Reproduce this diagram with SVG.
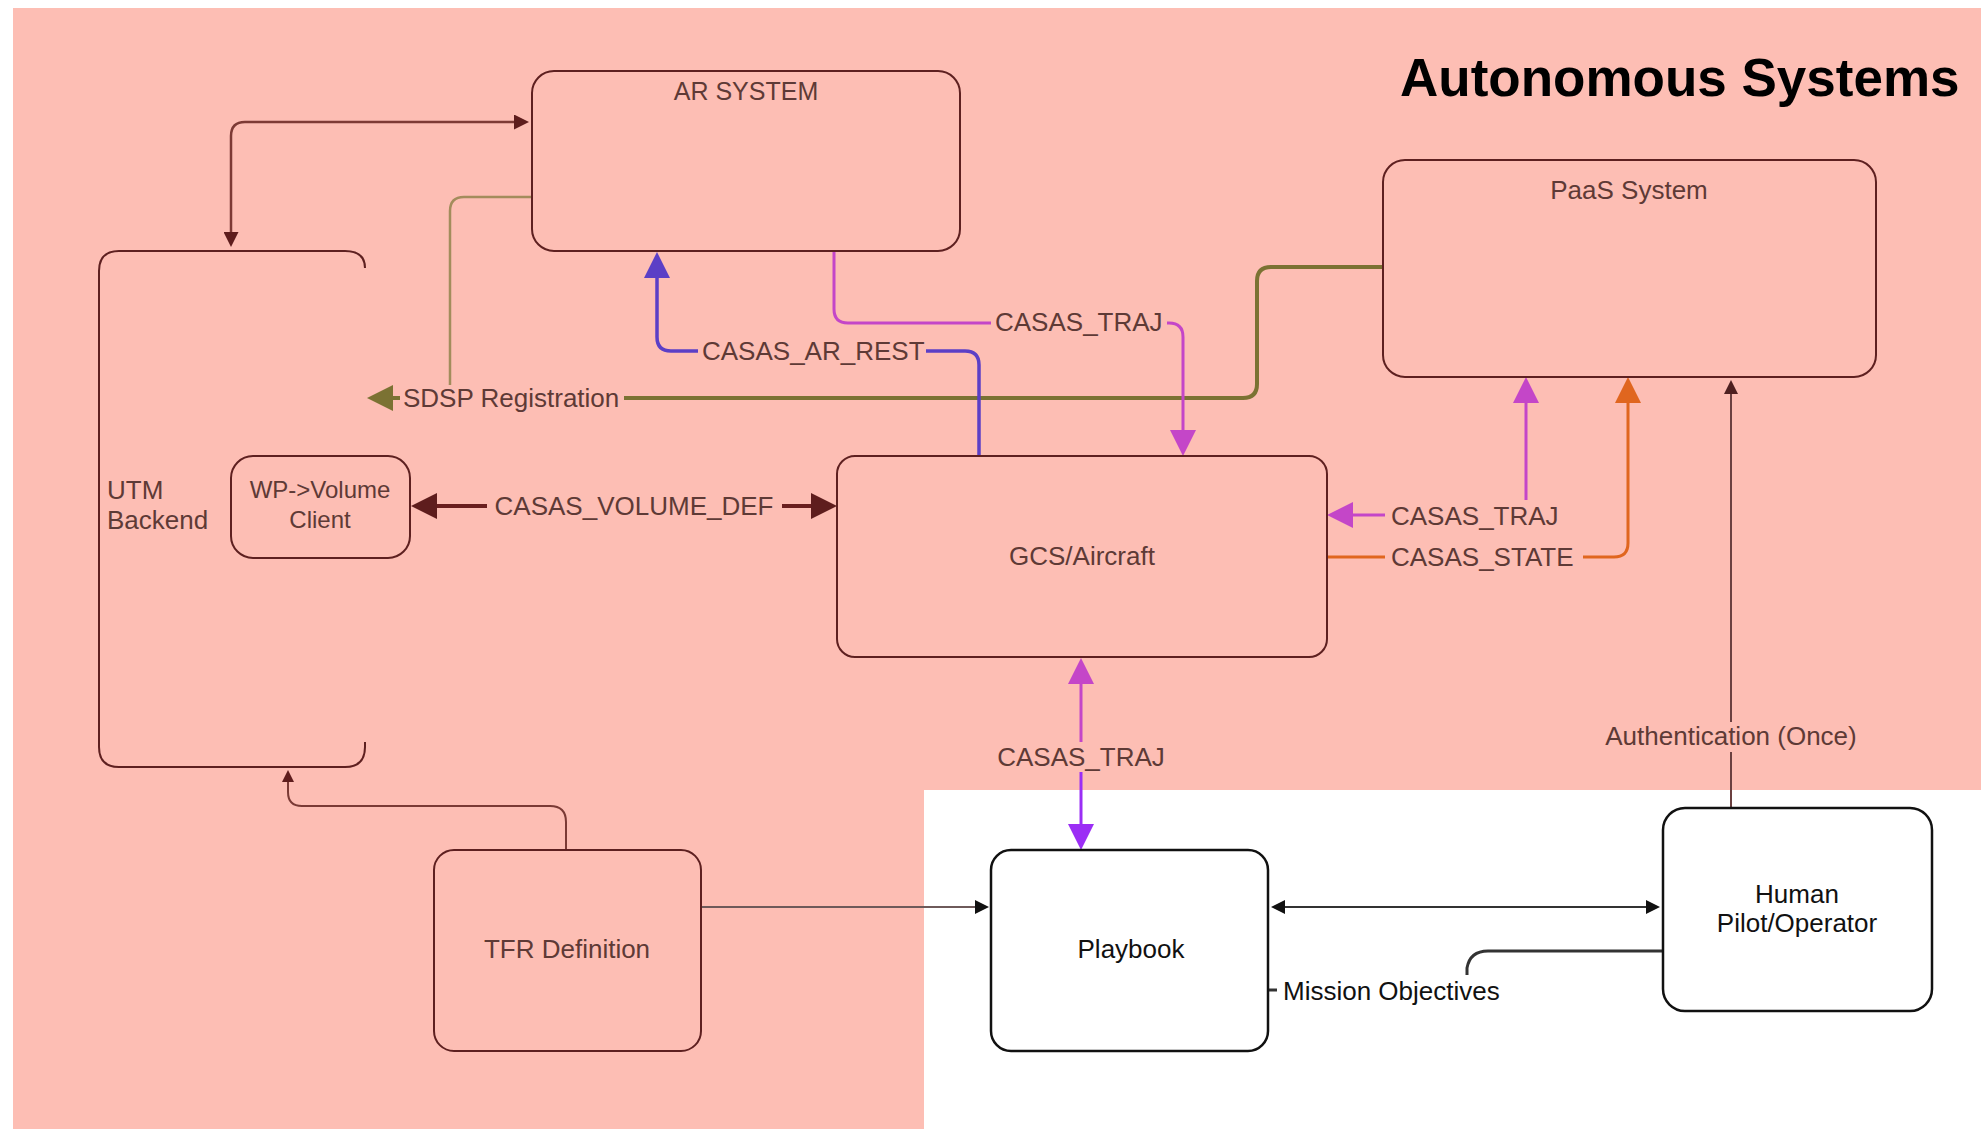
<svg xmlns="http://www.w3.org/2000/svg" width="1981" height="1129" viewBox="0 0 1981 1129">
<style>
  .bg { fill: #fdbeb4; }
  .node { fill: none; stroke: #5e2020; stroke-width: 2; }
  .nodew { fill: #ffffff; stroke: #111111; stroke-width: 2.5; }
  .lbl { font-family: "Liberation Sans", Arial, sans-serif; font-size: 26px; fill: #5e3a36; }
  .lblk { font-family: "Liberation Sans", Arial, sans-serif; font-size: 26px; fill: #111111; }
  .mid { text-anchor: middle; }
  .title { font-family: "Liberation Sans", Arial, sans-serif; font-size: 53px; font-weight: bold; fill: #000000; }
  .c { fill: none; }
  .lbg { fill: #fdbeb4; }
</style>
<defs>
  <marker id="aBrownS" viewBox="0 0 10 10" refX="0" refY="5" markerUnits="userSpaceOnUse" markerWidth="18" markerHeight="15" orient="auto-start-reverse"><path d="M0,0 L10,5 L0,10 z" fill="#5e1d1d"/></marker>
  <marker id="aBrownT" viewBox="0 0 10 10" refX="0" refY="5" markerUnits="userSpaceOnUse" markerWidth="15" markerHeight="12" orient="auto-start-reverse"><path d="M0,0 L10,5 L0,10 z" fill="#5e1d1d"/></marker>
  <marker id="aBrownB" viewBox="0 0 10 10" refX="0" refY="5" markerUnits="userSpaceOnUse" markerWidth="26" markerHeight="28" orient="auto-start-reverse"><path d="M0,0 L10,5 L0,10 z" fill="#5e1d1d"/></marker>
  <marker id="aAuth" viewBox="0 0 10 10" refX="0" refY="5" markerUnits="userSpaceOnUse" markerWidth="16" markerHeight="14" orient="auto-start-reverse"><path d="M0,0 L10,5 L0,10 z" fill="#4e2020"/></marker>
  <marker id="aOlive" viewBox="0 0 10 10" refX="0" refY="5" markerUnits="userSpaceOnUse" markerWidth="26" markerHeight="28" orient="auto-start-reverse"><path d="M0,0 L10,5 L0,10 z" fill="#7b7233"/></marker>
  <marker id="aBlue" viewBox="0 0 10 10" refX="0" refY="5" markerUnits="userSpaceOnUse" markerWidth="26" markerHeight="26" orient="auto-start-reverse"><path d="M0,0 L10,5 L0,10 z" fill="#5b3fc6"/></marker>
  <marker id="aMag" viewBox="0 0 10 10" refX="0" refY="5" markerUnits="userSpaceOnUse" markerWidth="26" markerHeight="26" orient="auto-start-reverse"><path d="M0,0 L10,5 L0,10 z" fill="#c446c8"/></marker>
  <marker id="aPurp" viewBox="0 0 10 10" refX="0" refY="5" markerUnits="userSpaceOnUse" markerWidth="26" markerHeight="26" orient="auto-start-reverse"><path d="M0,0 L10,5 L0,10 z" fill="#9b2ef5"/></marker>
  <marker id="aOrange" viewBox="0 0 10 10" refX="0" refY="5" markerUnits="userSpaceOnUse" markerWidth="26" markerHeight="26" orient="auto-start-reverse"><path d="M0,0 L10,5 L0,10 z" fill="#e0661f"/></marker>
  <marker id="aBlack" viewBox="0 0 10 10" refX="0" refY="5" markerUnits="userSpaceOnUse" markerWidth="16" markerHeight="14" orient="auto-start-reverse"><path d="M0,0 L10,5 L0,10 z" fill="#111111"/></marker>
</defs>

<rect width="1981" height="1129" fill="#ffffff"/>
<path class="bg" d="M13,8 H1981 V790 H924 V1129 H13 Z"/>
<text class="title" x="1400" y="96">Autonomous Systems</text>

<g id="connectors">
  <path class="c" d="M231,232 V136 Q231,122 245,122 H514" stroke="#7d3a35" stroke-width="2.5" marker-start="url(#aBrownS)" marker-end="url(#aBrownS)"/>
  <path class="c" d="M532,197 H464 Q450,197 450,211 V384 Q450,398 436,398" stroke="#a38c5c" stroke-width="2.5"/>
  <path class="c" d="M1383,267 H1271 Q1257,267 1257,281 V384 Q1257,398 1243,398 H393" stroke="#7b7233" stroke-width="4" marker-end="url(#aOlive)"/>
  <path class="c" d="M979,456 V365 Q979,351 965,351 H671 Q657,351 657,337 V278" stroke="#5b3fc6" stroke-width="3.5" marker-end="url(#aBlue)"/>
  <path class="c" d="M834,251 V309 Q834,323 848,323 H1169 Q1183,323 1183,337 V430" stroke="#c446c8" stroke-width="3" marker-end="url(#aMag)"/>
  <path class="c" d="M437,506 H811" stroke="#6a1f1f" stroke-width="4" marker-start="url(#aBrownB)" marker-end="url(#aBrownB)"/>
  <path class="c" d="M1081,742 V684" stroke="#c446c8" stroke-width="3" marker-end="url(#aMag)"/>
  <path class="c" d="M1081,772 V824" stroke="#9b2ef5" stroke-width="3" marker-end="url(#aPurp)"/>
  <path class="c" d="M1526,403 V515 H1353" stroke="#c446c8" stroke-width="3" marker-start="url(#aMag)" marker-end="url(#aMag)"/>
  <path class="c" d="M1327,557 H1614 Q1628,557 1628,543 V403" stroke="#e0661f" stroke-width="3" marker-end="url(#aOrange)"/>
  <path class="c" d="M1731,808 V394" stroke="#6b4040" stroke-width="2" marker-end="url(#aAuth)"/>
  <path class="c" d="M566,850 V822 Q566,806 550,806 H302 Q288,806 288,792 V782" stroke="#7a3a35" stroke-width="2" marker-end="url(#aBrownT)"/>
  <path class="c" d="M701,907 H975" stroke="#6e5a5a" stroke-width="2" marker-end="url(#aBlack)"/>
  <path class="c" d="M1285,907 H1646" stroke="#333333" stroke-width="2" marker-start="url(#aBlack)" marker-end="url(#aBlack)"/>
  <path class="c" d="M1663,951 H1488 Q1470,951 1467,968 V975" stroke="#333333" stroke-width="3"/>
  <path class="c" d="M1269,990 H1277" stroke="#333333" stroke-width="3"/>

  <rect class="lbg" x="400" y="385" width="224" height="28"/>
  <text class="lbl" x="403" y="407">SDSP Registration</text>
  <rect class="lbg" x="698" y="338" width="228" height="28"/>
  <text class="lbl" x="702" y="360">CASAS_AR_REST</text>
  <rect class="lbg" x="991" y="309" width="176" height="28"/>
  <text class="lbl" x="995" y="331">CASAS_TRAJ</text>
  <rect class="lbg" x="487" y="492" width="295" height="28"/>
  <text class="lbl mid" x="634" y="515">CASAS_VOLUME_DEF</text>
  <rect class="lbg" x="1385" y="500" width="176" height="30"/>
  <text class="lbl" x="1391" y="525">CASAS_TRAJ</text>
  <rect class="lbg" x="1385" y="543" width="198" height="28"/>
  <text class="lbl" x="1391" y="566">CASAS_STATE</text>
  <text class="lbl mid" x="1081" y="766">CASAS_TRAJ</text>
  <rect class="lbg" x="1600" y="722" width="262" height="30"/>
  <text class="lbl mid" x="1731" y="745">Authentication (Once)</text>
  <text class="lblk" x="1283" y="1000">Mission Objectives</text>
</g>

<g id="ar-system">
  <rect class="node" x="532" y="71" width="428" height="180" rx="22"/>
  <text class="lbl mid" x="746" y="100" style="font-size:25px">AR SYSTEM</text>
</g>
<g id="utm-backend">
  <path class="node" d="M365,268 Q365,251 345,251 H119 Q99,251 99,271 V747 Q99,767 119,767 H345 Q365,767 365,747 V742"/>
  <text class="lbl" x="107" y="499">UTM</text>
  <text class="lbl" x="107" y="529">Backend</text>
</g>
<g id="wp-volume-client">
  <rect class="node" x="231" y="456" width="179" height="102" rx="22"/>
  <text class="lbl mid" x="320" y="498" style="font-size:24px">WP-&gt;Volume</text>
  <text class="lbl mid" x="320" y="528" style="font-size:24px">Client</text>
</g>
<g id="gcs-aircraft">
  <rect class="node" x="837" y="456" width="490" height="201" rx="18"/>
  <text class="lbl mid" x="1082" y="565">GCS/Aircraft</text>
</g>
<g id="paas-system">
  <rect class="node" x="1383" y="160" width="493" height="217" rx="22"/>
  <text class="lbl mid" x="1629" y="199">PaaS System</text>
</g>
<g id="tfr-definition">
  <rect class="node" x="434" y="850" width="267" height="201" rx="20"/>
  <text class="lbl mid" x="567" y="958">TFR Definition</text>
</g>
<g id="playbook">
  <rect class="nodew" x="991" y="850" width="277" height="201" rx="20"/>
  <text class="lblk mid" x="1131" y="958">Playbook</text>
</g>
<g id="human-pilot">
  <rect class="nodew" x="1663" y="808" width="269" height="203" rx="22"/>
  <text class="lblk mid" x="1797" y="903">Human</text>
  <text class="lblk mid" x="1797" y="932">Pilot/Operator</text>
</g>
</svg>
